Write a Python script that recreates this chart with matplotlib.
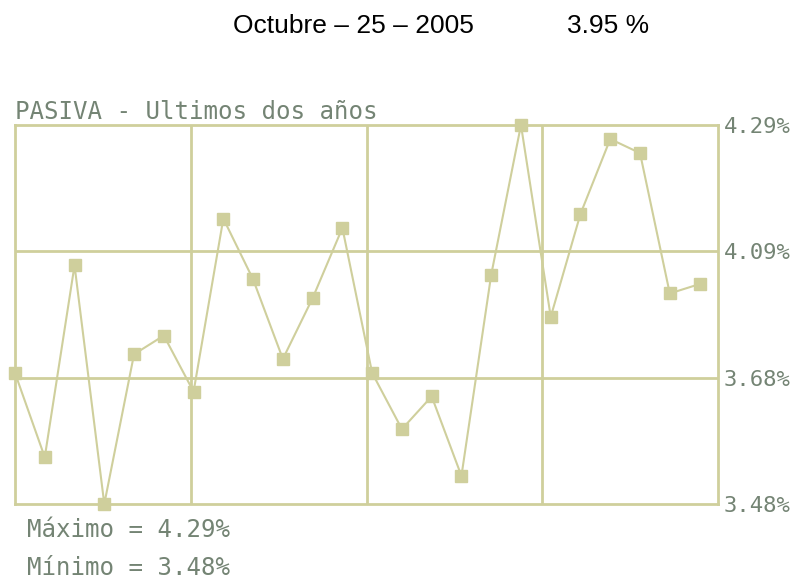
import matplotlib
matplotlib.use("Agg")
import matplotlib.pyplot as plt
import numpy as np

# Tasa pasiva, ultimos dos anos
valores = [3.76, 3.58, 3.99, 3.48, 3.80, 3.84, 3.72, 4.09, 3.96, 3.79, 3.92, 4.07,
           3.76, 3.64, 3.71, 3.54, 3.97, 4.29, 3.88, 4.10, 4.26, 4.23, 3.93, 3.95]
etiquetas_y = ['3.48%', '3.68%', '4.09%', '4.29%']
fecha = 'Octubre – 25 – 2005'
actual = '3.95 %'

linea = '#cfcf9c'
texto = '#748474'

W, H = 793, 582
fig = plt.figure(figsize=(W / 100, H / 100), dpi=100)
ax = fig.add_axes([15 / W, (H - 504) / H, (718 - 15) / W, (504 - 125) / H])

vmin, vmax = min(valores), max(valores)
x = np.arange(len(valores))
ax.plot(x, valores, color=linea, lw=1.5, marker='s', ms=8.5,
        mfc=linea, mec=linea, zorder=3, clip_on=False)

xmax = len(valores) - 1 + 0.62
ax.set_xlim(0, xmax)
ax.set_ylim(vmin, vmax)

# rejilla: 4 columnas y 3 filas
for xv in np.linspace(0, xmax, 5)[1:-1]:
    ax.axvline(xv, color=linea, lw=2, zorder=1)
yt = np.linspace(vmin, vmax, 4)
for yv in yt[1:-1]:
    ax.axhline(yv, color=linea, lw=2, zorder=1)

for s in ax.spines.values():
    s.set_color(linea)
    s.set_linewidth(2)
ax.set_xticks([])
ax.yaxis.tick_right()
ax.set_yticks(yt)
ax.set_yticklabels(etiquetas_y, family='DejaVu Sans Mono', fontsize=16, color=texto)
ax.tick_params(axis='y', length=0, pad=4)

mono = dict(family='DejaVu Sans Mono', fontsize=17.4, color=texto, va='center', ha='left')
fig.text(15 / W, 1 - 112 / H, 'PASIVA - Ultimos dos años', **mono)

fig.text(233 / W, 1 - 26 / H, fecha, family='Liberation Sans', fontsize=19,
         color='black', va='center', ha='left')
fig.text(567 / W, 1 - 26 / H, actual, family='Liberation Sans', fontsize=19,
         color='black', va='center', ha='left')

fig.text(27 / W, 1 - 530 / H, 'Máximo = %.2f%%' % vmax, **mono)
fig.text(27 / W, 1 - 568 / H, 'Mínimo = %.2f%%' % vmin, **mono)

fig.savefig('out.png', dpi=100, facecolor='white')
